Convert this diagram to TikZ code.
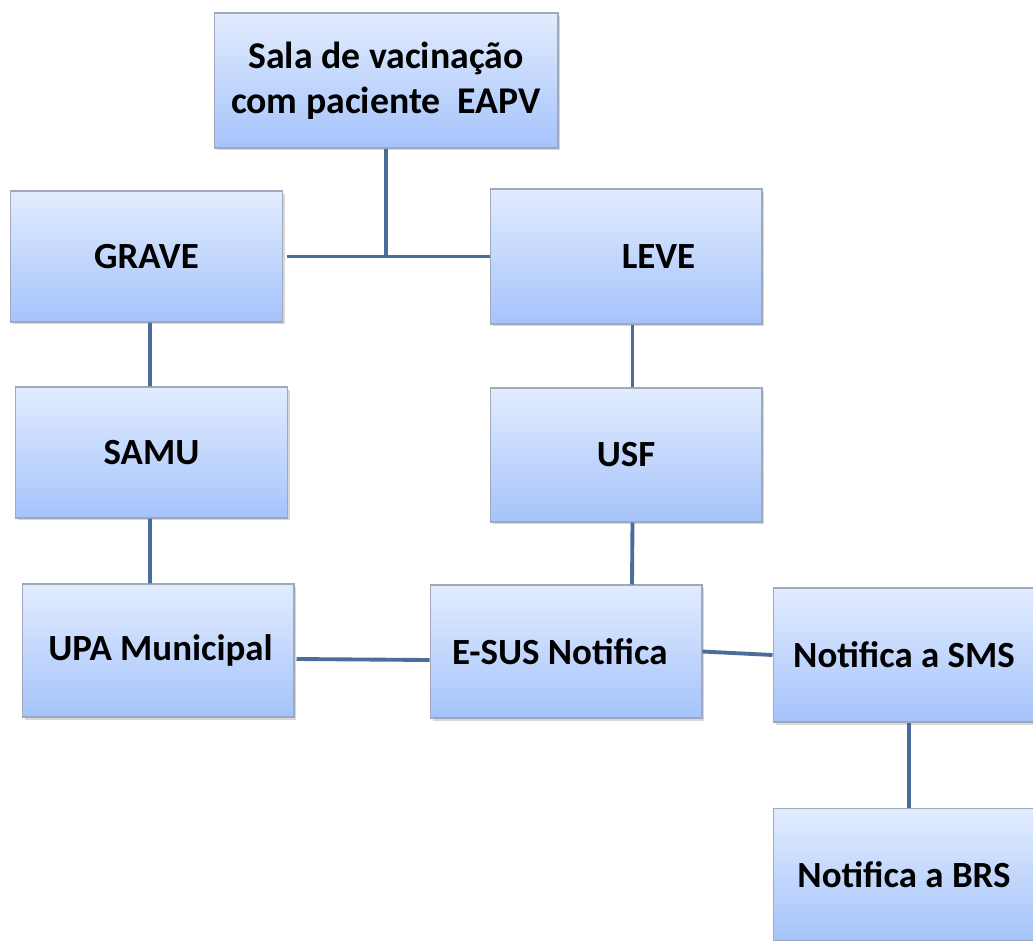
\documentclass[tikz,border=0pt]{standalone}
\usepackage{fontspec}
\setmainfont{Carlito}
\usetikzlibrary{shadows}
\definecolor{linha}{HTML}{4A6E9A}
\definecolor{borda}{HTML}{9FA9BA}
\definecolor{topo}{HTML}{E2ECFE}
\definecolor{fundo}{HTML}{A5C3FB}
\tikzset{
  caixa/.style={draw=borda, line width=0.6pt, top color=topo, bottom color=fundo,
    minimum width=5.44cm, minimum height=2.66cm, align=center,
    font=\fontsize{21}{25.5}\selectfont\bfseries,
    drop shadow={shadow xshift=0.05cm, shadow yshift=-0.05cm, opacity=0.3}},
  liga/.style={draw=linha, line width=2.2pt}
}
\begin{document}
\begin{tikzpicture}[x=0.02cm,y=-0.02cm]
  \useasboundingbox (0,0) rectangle (1033,940);
  \clip (0,0) rectangle (1033,940);
  \fill[white] (0,0) rectangle (1033,940);
  % caixas
  \node[caixa, minimum width=6.88cm, minimum height=2.7cm, font=\fontsize{21.5}{25.5}\selectfont\bfseries] (sala) at (386,80.5) {Sala de vacinação\\com paciente \ EAPV};
  \node[caixa, minimum height=2.62cm] (grave) at (146.5,256.5) {GRAVE};
  \node[caixa, minimum height=2.7cm] (leve) at (626,256.5) {\hspace*{1.3cm}LEVE};
  \node[caixa, minimum height=2.62cm] (samu) at (151.5,452.5) {SAMU};
  \node[caixa, minimum height=2.68cm] (usf) at (626,455) {USF};
  \node[caixa] (upa) at (158,650.5) {\hspace*{0.1cm}UPA Municipal};
  \node[caixa] (esus) at (566,651.5) {\hspace*{-0.25cm}E-SUS Notifica};
  \node[caixa, minimum height=2.68cm] (sms) at (909,655) {\hspace*{-0.2cm}Notifica a SMS};
  \node[caixa] (brs) at (909,874.5) {\hspace*{-0.2cm}Notifica a BRS};
  % ligacoes
  \coordinate (nó) at (sala.south |- grave.east);
  \draw[liga] (sala.south) -- (nó);
  \draw[liga] ([xshift=0.08cm]grave.east) -- (leve.west);
  \draw[liga] ([xshift=0.07cm]grave.south) -- ([xshift=-0.03cm]samu.north);
  \draw[liga] ([xshift=0.13cm]leve.south) -- ([xshift=0.13cm]usf.north);
  \draw[liga] ([xshift=-0.03cm]samu.south) -- ([xshift=-0.16cm]upa.north);
  \draw[liga] ([xshift=0.13cm]usf.south) -- ([xshift=1.32cm]esus.north);
  \draw[liga] ([shift={(0.04cm,-0.17cm)}]upa.east) -- ([yshift=-0.17cm]esus.west);
  \draw[liga] (esus.east) -- (sms.west);
  \draw[liga] (sms.south) -- (brs.north);
\end{tikzpicture}
\end{document}
